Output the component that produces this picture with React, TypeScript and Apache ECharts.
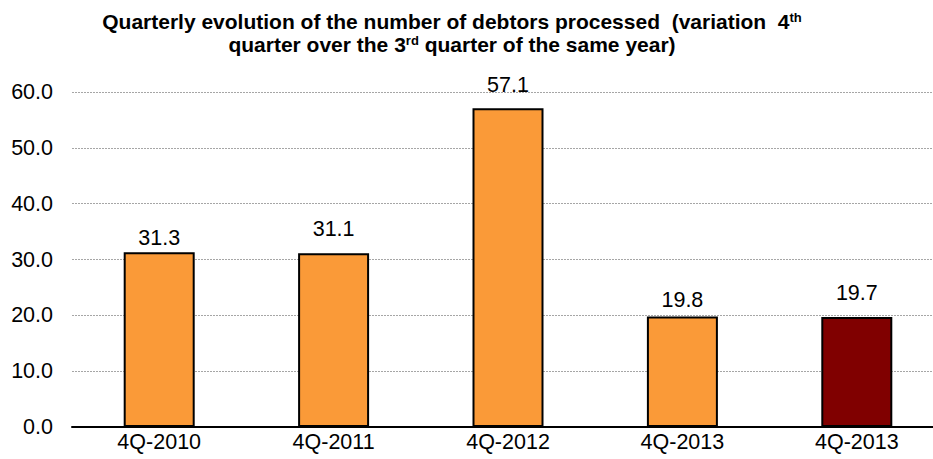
import React, { useEffect, useRef } from "react";
import * as echarts from "echarts";

const categories = ["4Q-2010", "4Q-2011", "4Q-2012", "4Q-2013", "4Q-2013"];
const values = [31.3, 31.1, 57.1, 19.8, 19.7];
const barColors = ["#FA9A38", "#FA9A38", "#FA9A38", "#FA9A38", "#800000"];
const labelDistances = [3, 13, 12, 5.5, 13];
const titleLine1 = "Quarterly evolution of the number of debtors processed  (variation  4{sup|th}";
const titleLine2 = "quarter over the 3{sup|rd} quarter of the same year)";

const FONT = "'Liberation Sans', Arial, Helvetica, sans-serif";

export default function App() {
  const ref = useRef<HTMLDivElement>(null);
  useEffect(() => {
    if (!ref.current) return;
    const chart = echarts.init(ref.current, undefined, { renderer: "svg" });
    const supStyle = {
      fontSize: 13,
      fontWeight: "bold",
      fontFamily: FONT,
      fill: "#000",
      verticalAlign: "top",
    };
    chart.setOption({
      animation: false,
      backgroundColor: "#fff",
      textStyle: { fontFamily: FONT },
      graphic: [
        {
          type: "text",
          x: 452,
          y: 21.5,
          style: {
            text: titleLine1,
            fill: "#000",
            fontSize: 21,
            fontWeight: "bold",
            fontFamily: FONT,
            align: "center",
            verticalAlign: "middle",
            rich: { sup: supStyle },
          },
        },
        {
          type: "text",
          x: 452,
          y: 44.5,
          style: {
            text: titleLine2,
            fill: "#000",
            fontSize: 21,
            fontWeight: "bold",
            fontFamily: FONT,
            align: "center",
            verticalAlign: "middle",
            rich: { sup: supStyle },
          },
        },
      ],
      grid: { left: 72, top: 92, width: 872, height: 335, containLabel: false },
      xAxis: {
        type: "category",
        data: categories,
        axisLine: { show: true, lineStyle: { color: "#000", width: 2 } },
        axisTick: { show: false },
        axisLabel: { color: "#000", fontSize: 21.5, fontFamily: FONT, margin: 4, interval: 0 },
      },
      yAxis: {
        type: "value",
        min: 0,
        max: 60,
        interval: 10,
        axisLine: { show: false },
        axisTick: { show: false },
        axisLabel: {
          color: "#000",
          fontSize: 21.5,
          fontFamily: FONT,
          margin: 19,
          formatter: (v: number) => v.toFixed(1),
        },
        splitLine: { show: true, lineStyle: { color: "#a6a6a6", type: [2, 1], width: 1 } },
      },
      series: [
        {
          type: "bar",
          barWidth: 71,
          data: values.map((v, i) => ({
            value: v,
            itemStyle: { color: barColors[i], borderColor: "#000", borderWidth: 2 },
            label: { distance: labelDistances[i] },
          })),
          label: {
            show: true,
            position: "top",
            distance: 3,
            color: "#000",
            fontSize: 21.5,
            fontFamily: FONT,
            formatter: (p: any) => Number(p.value).toFixed(1),
          },
        },
      ],
    });
    return () => chart.dispose();
  }, []);
  return (
    <div style={{ position: "fixed", left: 0, top: 0, width: 933, height: 459, overflow: "hidden", background: "#fff" }}>
      <div ref={ref} style={{ width: 945, height: 459 }} />
    </div>
  );
}
